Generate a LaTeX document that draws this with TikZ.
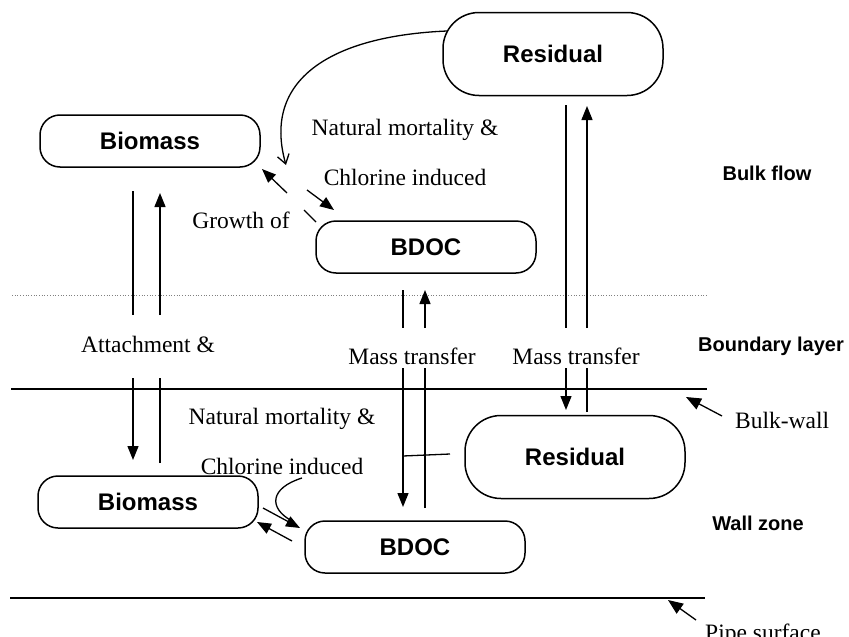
\documentclass[tikz,border=0pt]{standalone}
\usepackage{fontspec}
\newfontfamily\hsans{Liberation Sans}[BoldFont={Liberation Sans Bold}]
\newfontfamily\hserif{Liberation Serif}
\usetikzlibrary{arrows.meta}
\tikzset{
  box/.style={draw, line width=1.5pt, rounded corners=20pt, minimum width=220pt, minimum height=52pt, inner sep=0pt,
              font=\hsans\bfseries\fontsize{24}{28}\selectfont},
  bigbox/.style={box, rounded corners=36pt, minimum height=83pt},
  lbl/.style={inner sep=0pt, font=\hserif\fontsize{23.5}{27}\selectfont},
  zone/.style={inner sep=0pt, font=\hsans\bfseries\fontsize{20}{24}\selectfont},
  flow/.style={line width=1.3pt},
  tip/.style={flow, -{Triangle[length=14pt,width=11pt]}},
  wall/.style={line width=1.6pt},
}
\begin{document}
\begin{tikzpicture}[x=1pt,y=-1pt]
\useasboundingbox (0,0) rectangle (849,637);
\clip (0,0) rectangle (849,637);
% boxes
\node[bigbox] (rt) at (553,54) {Residual};
\node[box] (bt) at (150,141) {Biomass};
\node[box] (dt) at (426,247) {BDOC};
\node[bigbox] (rb) at (575,457) {Residual};
\node[box] (bb) at (148,502) {Biomass};
\node[box] (db) at (415,547) {BDOC};
% zone lines
\coordinate (d1) at (12,295); \coordinate (d2) at (707,295);
\draw[dotted, line width=0.7pt, gray] (d1) -- (d2);
\coordinate (w1) at (11,389); \coordinate (w2) at (707,389);
\draw[wall] (w1) -- (w2);
\coordinate (p1) at (10,598); \coordinate (p2) at (705,598);
\draw[wall] (p1) -- (p2);
% zone labels
\node[zone] (zbf) at (767,173) {Bulk flow};
\node[zone] (zbl) at (771,346) {Boundary layer};
\node[zone] (zwz) at (758,523) {Wall zone};
\node[lbl, anchor=west] (lbw) at (735,420) {Bulk-wall};
\node[lbl, anchor=base west] (lps) at (705,640) {Pipe surface};
\coordinate (bwa) at (722,416); \coordinate (bwt) at (686,397);
\draw[flow, -{Triangle[length=15pt,width=12pt]}] (bwa) -- (bwt);
\coordinate (psa) at (696,620); \coordinate (pst) at (668,600);
\draw[flow, -{Triangle[length=15pt,width=12pt]}] (psa) -- (pst);
% text labels
\node[lbl] (nm1) at (405,130) {Natural mortality \&};
\node[lbl] (ci1) at (405,177) {Chlorine induced};
\node[lbl] (gro) at (241,220) {Growth of};
\node[lbl] (att) at (148,344) {Attachment \&};
\node[lbl] (mt1) at (412,356) {Mass transfer};
\node[lbl] (mt2) at (576,356) {Mass transfer};
\node[lbl] (nm2) at (282,419) {Natural mortality \&};
\node[lbl] (ci2) at (282,466) {Chlorine induced};
% biomass attachment / detachment
\coordinate (a1) at (133,191); \coordinate (a2) at (133,315);
\coordinate (a3) at (133,378); \coordinate (a4) at (133,460);
\draw[flow] (a1) -- (a2); \draw[tip] (a3) -- (a4);
\coordinate (b1) at (160,463); \coordinate (b2) at (160,378);
\coordinate (b3) at (160,315); \coordinate (b4) at (160,193);
\draw[flow] (b1) -- (b2); \draw[tip] (b3) -- (b4);
% BDOC mass transfer
\coordinate (c1) at (403,290); \coordinate (c2) at (403,328);
\coordinate (c3) at (403,368); \coordinate (c4) at (403,507);
\draw[flow] (c1) -- (c2); \draw[tip] (c3) -- (c4);
\coordinate (e1) at (425,508); \coordinate (e2) at (425,368);
\coordinate (e3) at (425,328); \coordinate (e4) at (425,290);
\draw[flow] (e1) -- (e2); \draw[tip] (e3) -- (e4);
% Residual mass transfer
\coordinate (f1) at (566,105); \coordinate (f2) at (566,328);
\coordinate (f3) at (566,368); \coordinate (f4) at (566,410);
\draw[flow] (f1) -- (f2); \draw[tip] (f3) -- (f4);
\coordinate (g1) at (587,412); \coordinate (g2) at (587,368);
\coordinate (g3) at (587,328); \coordinate (g4) at (587,106);
\draw[flow] (g1) -- (g2); \draw[tip] (g3) -- (g4);
% residual (wall) to BDOC line
\coordinate (rs) at (450,454); \coordinate (rj) at (403,456);
\draw[flow] (rs) -- (rj);
% top: growth / decay arrows
\coordinate (h1) at (287,193); \coordinate (h2) at (262,169);
\draw[tip] (h1) -- (h2);
\coordinate (h3) at (316,222); \coordinate (h4) at (304,210);
\draw[flow] (h3) -- (h4);
\coordinate (k1) at (307,190); \coordinate (k2) at (334,210);
\draw[tip] (k1) -- (k2);
% top curve residual -> biomass
\coordinate (cs) at (447,31); \coordinate (ce) at (286,165);
\draw[flow, -{Straight Barb[length=9pt,width=12pt]}] (cs) .. controls (330,36) and (262,80) .. (ce);
% bottom growth / decay arrows
\coordinate (m1) at (263,508); \coordinate (m2) at (300,528);
\draw[tip] (m1) -- (m2);
\coordinate (n1) at (292,541); \coordinate (n2) at (257,522);
\draw[tip] (n1) -- (n2);
% bottom curve
\coordinate (q1) at (302,478); \coordinate (q2) at (292,521);
\draw[flow] (q1) .. controls (270,488) and (268,508) .. (q2);
\end{tikzpicture}
\end{document}
